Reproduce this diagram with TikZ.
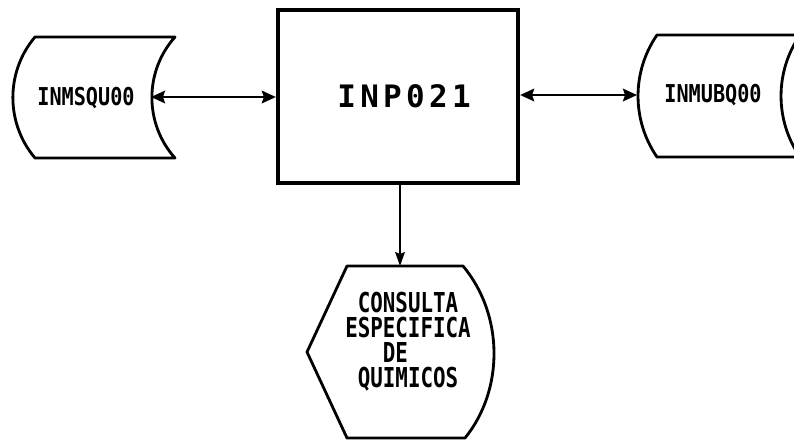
\documentclass[tikz,border=0pt]{standalone}
\usepackage{fontspec}
\usepackage{tikz}
\usetikzlibrary{arrows.meta}
\newfontfamily\lblfont{DejaVu Sans Mono}[FakeStretch=0.82]
\newfontfamily\dispfont{DejaVu Sans Mono}[FakeStretch=0.76]
\newfontfamily\boxfont{DejaVu Sans Mono}[LetterSpace=14]

\begin{document}
\begin{tikzpicture}[x=0.025cm, y=-0.025cm,
	shape line/.style={line width=2pt, line join=round},
	flow/.style={line width=1.6pt, {Stealth[length=10pt,width=9pt,inset=1.5pt]}-{Stealth[length=10pt,width=9pt,inset=1.5pt]}},
	lbl/.style={font=\lblfont\bfseries\fontsize{17.5}{17.8}\selectfont, inner sep=0pt},
	disp/.style={font=\dispfont\bfseries\fontsize{19.5}{17.8}\selectfont, align=center, inner sep=0pt}]

	\clip (0,0) rectangle (794,443);

	% stored data, left
	\draw[shape line] (35,37) -- (175,37) .. controls (144.2,71.3) and (144.2,123.7) .. (175,158) -- (35,158) .. controls (5.5,123.2) and (5.5,71.8) .. (35,37) -- cycle;
	\node[lbl] (msqu) at (86,98) {INMSQU00};
	\coordinate (msqu edge) at (151,97);

	% program
	\node[draw, line width=3pt, minimum width=6cm, minimum height=4.325cm, font=\boxfont\bfseries\fontsize{22}{24}\selectfont] (inp) at (398,96.5) {\hspace*{0.3cm}INP021};

	% stored data, right
	\draw[shape line] (657,35) -- (800,35) .. controls (774.7,71.7) and (774.7,120.3) .. (800,157) -- (657,157) .. controls (631.7,120.3) and (631.7,71.7) .. (657,35) -- cycle;
	\node[lbl] (mubq) at (713,95) {INMUBQ00};
	\coordinate (mubq edge) at (637,95);

	% display
	\draw[shape line] (347,266) -- (463,266) .. controls (504,315) and (504,390) .. (465,438) -- (347,438) -- (307,352) -- cycle;
	\node[disp] (quim) at (408,342) {CONSULTA\\ESPECIFICA\\DE\phantom{XX}\\QUIMICOS};
	\coordinate (disp top) at (400,266);

	\draw[flow] (msqu edge) -- (msqu edge -| inp.west);
	\draw[flow] (mubq edge -| inp.east) -- (mubq edge);
	\draw[line width=1pt, -{Stealth[length=10pt,width=7pt,inset=1.5pt]}] (inp.south -| disp top) -- (disp top);
\end{tikzpicture}
\end{document}
